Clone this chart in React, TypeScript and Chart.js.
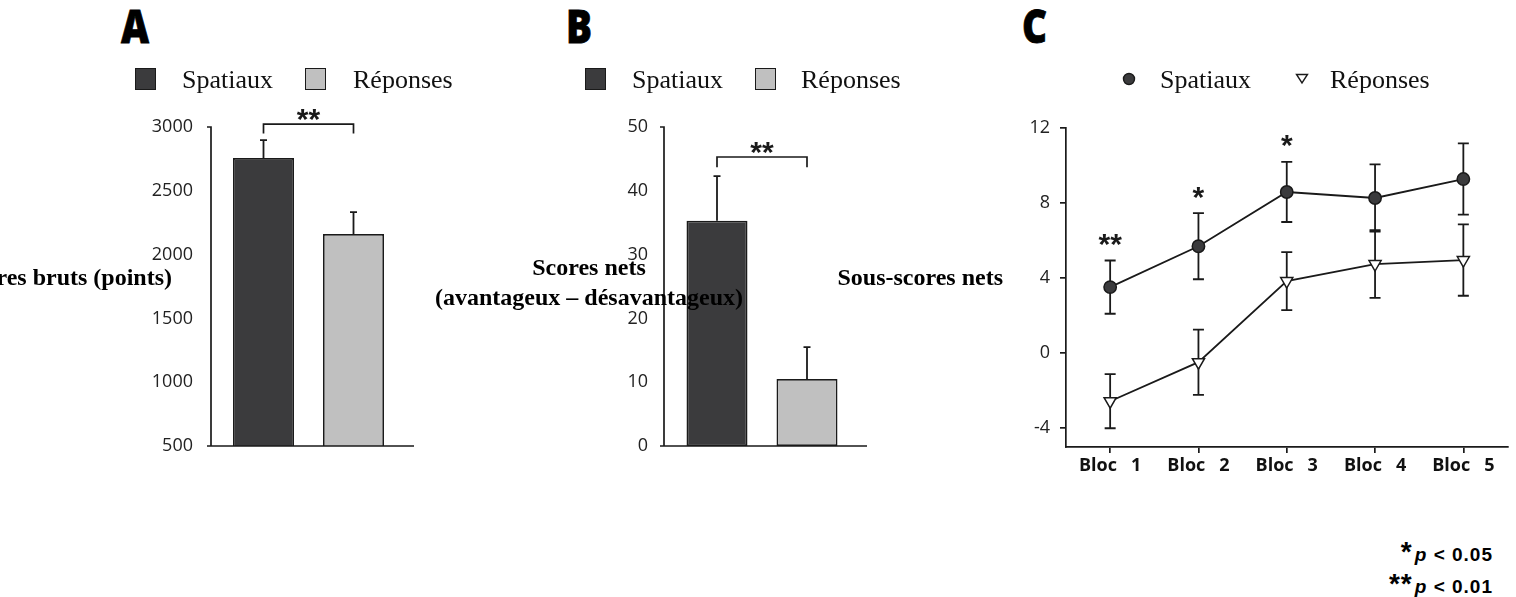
import React, { useEffect, useRef } from 'react';
import { Chart, registerables } from 'chart.js';
Chart.register(...registerables);

// ---------- data ----------
const groups = ['Spatiaux', 'Réponses'];
const rawScores = [2757, 2161];
const rawScoresErr = [140, 172];
const rawTicks = [500, 1000, 1500, 2000, 2500, 3000];

const netScores = [35.3, 10.5];
const netScoresErr = [7.0, 5.0];
const netTicks = [0, 10, 20, 30, 40, 50];

const blocs = ['Bloc   1', 'Bloc   2', 'Bloc   3', 'Bloc   4', 'Bloc   5'];
const spatiaux = [3.52, 5.7, 8.59, 8.27, 9.28];
const spatiauxErr = [1.42, 1.76, 1.6, 1.79, 1.9];
const reponses = [-2.56, -0.48, 3.84, 4.75, 4.96];
const reponsesErr = [1.44, 1.74, 1.55, 1.8, 1.9];
const blocTicks = [-4, 0, 4, 8, 12];

// significance annotations (data units)
const sigA = { from: 0, to: 1, y: 3023, leg: 2950, label: '**', labelY: 3094 };
const sigB = { from: 0, to: 1, y: 45.3, leg: 43.7, label: '**', labelY: 46.7 };
const sigC = [
  { index: 0, label: '**', y: 6.03 },
  { index: 1, label: '*', y: 8.53 },
  { index: 2, label: '*', y: 11.28 },
];

const DARK = '#3b3b3d';
const LIGHT = '#c0c0c0';
const INK = '#1a1a1a';
const STAR_SIZE = 30;
const STAR_FONT = `bold ${STAR_SIZE}px "Liberation Sans", Arial, sans-serif`;

function drawStar(ctx: CanvasRenderingContext2D, x: number, yCenter: number, label: string) {
  ctx.save();
  ctx.font = STAR_FONT;
  ctx.fillStyle = INK;
  ctx.textAlign = 'center';
  ctx.textBaseline = 'alphabetic';
  ctx.fillText(label, x, yCenter + 0.45 * STAR_SIZE);
  ctx.restore();
}

function makeErrorBars(sets: { dataset: number; err: number[]; down: boolean }[], cap: number) {
  return {
    id: 'errorBars',
    beforeDatasetsDraw(chart: any) {
      const ctx = chart.ctx;
      const y = chart.scales.y;
      ctx.save();
      ctx.strokeStyle = INK;
      ctx.lineWidth = 1.8;
      sets.forEach((s) => {
        const meta = chart.getDatasetMeta(s.dataset);
        const vals = chart.data.datasets[s.dataset].data as number[];
        meta.data.forEach((el: any, i: number) => {
          const v = vals[i];
          const e = s.err[i];
          const px = el.x;
          const top = y.getPixelForValue(v + e);
          const bot = s.down ? y.getPixelForValue(v - e) : y.getPixelForValue(v);
          ctx.beginPath();
          ctx.moveTo(px, bot);
          ctx.lineTo(px, top);
          ctx.moveTo(px - cap, top);
          ctx.lineTo(px + cap, top);
          if (s.down) {
            ctx.moveTo(px - cap, bot);
            ctx.lineTo(px + cap, bot);
          }
          ctx.stroke();
        });
      });
      ctx.restore();
    },
  };
}

function makeBarAxes(yOffset: number, xExtend: number) {
  return {
    id: 'barAxes',
    afterDatasetsDraw(chart: any) {
      const ctx = chart.ctx;
      const y = chart.scales.y;
      const a = chart.chartArea;
      const lx = a.left - yOffset;
      const top = y.getPixelForValue(y.max);
      const bot = y.getPixelForValue(y.min);
      ctx.save();
      ctx.strokeStyle = INK;
      ctx.lineWidth = 1.7;
      ctx.beginPath();
      ctx.moveTo(lx - 4, top);
      ctx.lineTo(lx, top);
      ctx.lineTo(lx, bot);
      ctx.moveTo(lx - 4, bot);
      ctx.lineTo(a.right + xExtend, bot);
      ctx.stroke();
      ctx.restore();
    },
  };
}

function makeBracket(sig: { from: number; to: number; y: number; leg: number; label: string; labelY: number }) {
  return {
    id: 'bracket',
    afterDatasetsDraw(chart: any) {
      const ctx = chart.ctx;
      const y = chart.scales.y;
      const meta = chart.getDatasetMeta(0);
      const x1 = meta.data[sig.from].x;
      const x2 = meta.data[sig.to].x;
      const yb = y.getPixelForValue(sig.y);
      const yl = y.getPixelForValue(sig.leg);
      ctx.save();
      ctx.strokeStyle = INK;
      ctx.lineWidth = 1.7;
      ctx.beginPath();
      ctx.moveTo(x1, yl);
      ctx.lineTo(x1, yb);
      ctx.lineTo(x2, yb);
      ctx.lineTo(x2, yl);
      ctx.stroke();
      ctx.restore();
      drawStar(ctx, (x1 + x2) / 2, y.getPixelForValue(sig.labelY), sig.label);
    },
  };
}

const starsC = {
  id: 'starsC',
  afterDatasetsDraw(chart: any) {
    const x = chart.scales.x;
    const y = chart.scales.y;
    sigC.forEach((s) => drawStar(chart.ctx, x.getPixelForValue(s.index), y.getPixelForValue(s.y), s.label));
  },
};

const tickFont = { family: '"Open Sans", sans-serif', size: 18 };
const plainTick = (v: any) => String(v);

function barConfig(values: number[], errs: number[], ticks: number[], min: number, max: number, yWidth: number, padRight: number, tickPad: number, sig: any, yOffset: number, xExtend: number): any {
  return {
    type: 'bar',
    data: {
      labels: groups,
      datasets: [
        {
          data: values,
          backgroundColor: [DARK, LIGHT],
          borderColor: INK,
          borderWidth: 1.7,
          borderSkipped: false,
          categoryPercentage: 1,
          barPercentage: 61 / 90,
        },
      ],
    },
    options: {
      responsive: false,
      animation: false,
      layout: { padding: { top: 37, bottom: 44, left: 0, right: padRight } },
      plugins: { legend: { display: false }, tooltip: { enabled: false } },
      scales: {
        x: { display: false, offset: true },
        y: {
          min,
          max,
          grid: { display: false, drawTicks: false },
          border: { display: false },
          ticks: { font: tickFont, color: '#222', padding: tickPad, callback: plainTick },
          afterBuildTicks: (s: any) => {
            s.ticks = ticks.map((v) => ({ value: v }));
          },
          afterFit: (s: any) => {
            s.width = yWidth;
          },
        },
      },
    },
    plugins: [makeErrorBars([{ dataset: 0, err: errs, down: false }], 3.5), makeBarAxes(yOffset, xExtend), makeBracket(sig)],
  };
}

function lineConfig(): any {
  return {
    type: 'line',
    data: {
      labels: blocs,
      datasets: [
        {
          label: 'Spatiaux',
          data: spatiaux,
          borderColor: INK,
          borderWidth: 1.8,
          pointStyle: 'circle',
          pointRadius: 6.2,
          pointBackgroundColor: DARK,
          pointBorderColor: INK,
          pointBorderWidth: 1.5,
        },
        {
          label: 'Réponses',
          data: reponses,
          borderColor: INK,
          borderWidth: 1.8,
          pointStyle: 'triangle',
          pointRotation: 180,
          pointRadius: 7,
          pointBackgroundColor: '#ffffff',
          pointBorderColor: INK,
          pointBorderWidth: 1.5,
        },
      ],
    },
    options: {
      responsive: false,
      animation: false,
      layout: { padding: { top: 38, bottom: 23, left: 0, right: 8 } },
      plugins: { legend: { display: false }, tooltip: { enabled: false } },
      scales: {
        x: {
          offset: true,
          grid: { display: true, drawOnChartArea: false, drawTicks: true, tickLength: 6, color: INK, lineWidth: 1.7 },
          border: { display: true, color: INK, width: 1.7 },
          ticks: { font: { family: '"Open Sans", sans-serif', size: 18, weight: 'bold' }, color: '#111', padding: 2, maxRotation: 0, autoSkip: false },
          afterFit: (s: any) => {
            s.height = 40;
          },
        },
        y: {
          min: -5,
          max: 12,
          grid: { display: true, drawOnChartArea: false, drawTicks: true, tickLength: 6, color: INK, lineWidth: 1.7 },
          border: { display: true, color: INK, width: 1.7 },
          ticks: { font: tickFont, color: '#222', padding: 10, callback: plainTick },
          afterBuildTicks: (s: any) => {
            s.ticks = blocTicks.map((v) => ({ value: v }));
          },
          afterFit: (s: any) => {
            s.width = 106;
          },
        },
      },
    },
    plugins: [
      makeErrorBars(
        [
          { dataset: 0, err: spatiauxErr, down: true },
          { dataset: 1, err: reponsesErr, down: true },
        ],
        5.5
      ),
      starsC,
    ],
  };
}

const abs = (s: React.CSSProperties): React.CSSProperties => ({ position: 'absolute', ...s });
const serif = '"Liberation Serif", "Times New Roman", serif';
const legendText: React.CSSProperties = { fontFamily: serif, fontSize: 26, lineHeight: '26px', color: '#111', whiteSpace: 'nowrap' };
const axisTitle: React.CSSProperties = { fontFamily: serif, fontSize: 24, fontWeight: 'bold', lineHeight: '24px', color: '#000', whiteSpace: 'nowrap' };
const panelLetter: React.CSSProperties = {
  fontFamily: '"Open Sans", sans-serif',
  fontWeight: 800,
  fontSize: 46,
  lineHeight: '46px',
  color: '#000',
  transform: 'scaleX(0.84)',
  transformOrigin: 'left top',
  WebkitTextStroke: '0.8px #000',
};

function Square({ left, color }: { left: number; color: string }) {
  return <div style={abs({ left, top: 68, width: 19, height: 20, background: color, border: '1.6px solid #1a1a1a' })} />;
}

export default function App() {
  const refA = useRef<HTMLCanvasElement>(null);
  const refB = useRef<HTMLCanvasElement>(null);
  const refC = useRef<HTMLCanvasElement>(null);

  useEffect(() => {
    const a = new Chart(refA.current!, barConfig(rawScores, rawScoresErr, rawTicks, 500, 3000, 218.5, 71.5, 25.5, sigA, 7.5, 15.5));
    const b = new Chart(refB.current!, barConfig(netScores, netScoresErr, netTicks, 0, 50, 192, 48, 24, sigB, 8, 15));
    const c = new Chart(refC.current!, lineConfig());
    return () => {
      a.destroy();
      b.destroy();
      c.destroy();
    };
  }, []);

  const starSpan: React.CSSProperties = { fontFamily: '"Liberation Sans", Arial, sans-serif', fontSize: 28, fontWeight: 'bold', marginRight: 2 };
  const footText: React.CSSProperties = { fontFamily: '"Liberation Sans", Arial, sans-serif', fontSize: 19, fontWeight: 'bold', color: '#000', whiteSpace: 'nowrap', lineHeight: '20px', textAlign: 'right', letterSpacing: '1px' };

  return (
    <div style={abs({ left: 0, top: 0, width: 1516, height: 597, overflow: 'hidden', background: '#fff' })}>
      <canvas ref={refA} width={470} height={400} style={abs({ left: 0, top: 90 })} />
      <canvas ref={refB} width={420} height={400} style={abs({ left: 480, top: 90 })} />
      <canvas ref={refC} width={556} height={420} style={abs({ left: 960, top: 90 })} />

      <div style={abs({ ...panelLetter, left: 121, top: 2 })}>A</div>
      <div style={abs({ ...panelLetter, left: 566, top: 2 })}>B</div>
      <div style={abs({ ...panelLetter, left: 1022, top: 2 })}>C</div>

      <Square left={135} color={DARK} />
      <div style={abs({ ...legendText, left: 182, top: 67 })}>Spatiaux</div>
      <Square left={305} color={LIGHT} />
      <div style={abs({ ...legendText, left: 353, top: 67 })}>Réponses</div>

      <Square left={585} color={DARK} />
      <div style={abs({ ...legendText, left: 632, top: 67 })}>Spatiaux</div>
      <Square left={755} color={LIGHT} />
      <div style={abs({ ...legendText, left: 801, top: 67 })}>Réponses</div>

      <svg style={abs({ left: 1120, top: 70 })} width={200} height={20}>
        <circle cx={9} cy={9} r={5.5} fill={DARK} stroke="#1a1a1a" strokeWidth={1.4} />
        <polygon points="176.5,4.5 187.5,4.5 182,13" fill="#fff" stroke="#1a1a1a" strokeWidth={1.4} />
      </svg>
      <div style={abs({ ...legendText, left: 1160, top: 67 })}>Spatiaux</div>
      <div style={abs({ ...legendText, left: 1330, top: 67 })}>Réponses</div>

      <div style={abs({ ...axisTitle, right: 1516 - 172, top: 265, textAlign: 'right' })}>Scores bruts (points)</div>
      <div style={abs({ ...axisTitle, left: 589, top: 252, lineHeight: '30px', textAlign: 'center', transform: 'translateX(-50%)' })}>
        Scores nets
        <br />
        (avantageux – désavantageux)
      </div>
      <div style={abs({ ...axisTitle, right: 1516 - 1003, top: 265, textAlign: 'right' })}>Sous-scores nets</div>

      <div style={abs({ ...footText, right: 23, top: 542 })}>
        <span style={starSpan}>*</span>
        <i>p</i> &lt; 0.05
      </div>
      <div style={abs({ ...footText, right: 23, top: 574 })}>
        <span style={starSpan}>**</span>
        <i>p</i> &lt; 0.01
      </div>
    </div>
  );
}
